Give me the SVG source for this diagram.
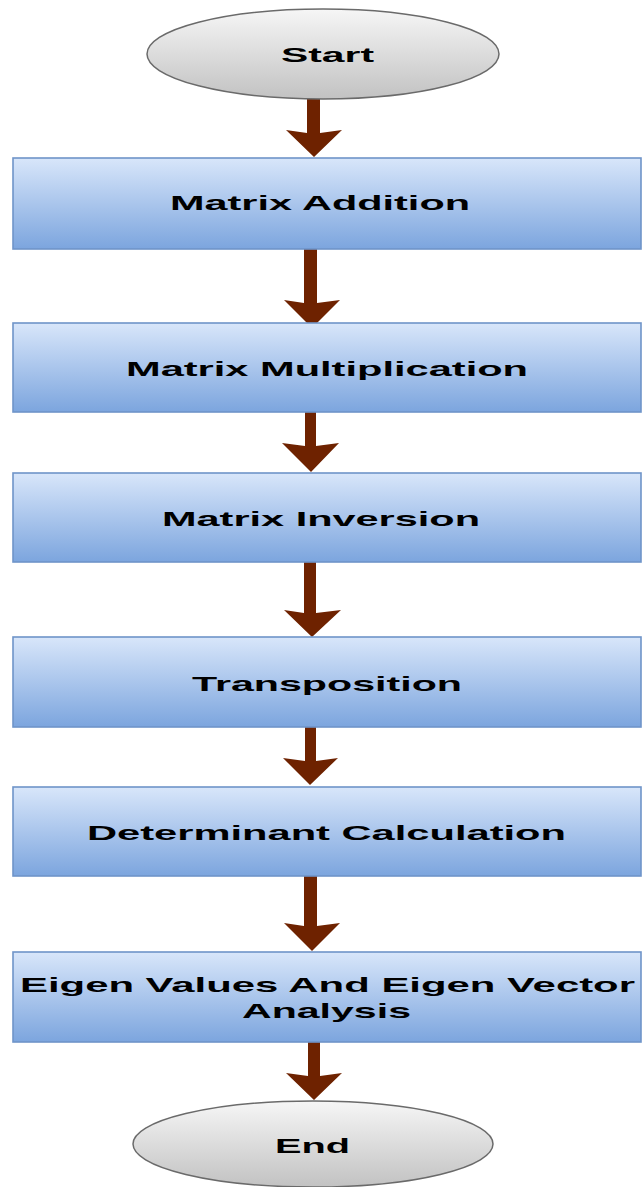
<svg xmlns="http://www.w3.org/2000/svg" width="642" height="1187" viewBox="0 0 642 1187">
<defs>
<linearGradient id="boxg" x1="0" y1="0" x2="0" y2="1">
<stop offset="0" stop-color="#d8e6fa"/>
<stop offset="1" stop-color="#7ca5de"/>
</linearGradient>
<linearGradient id="ellg" x1="0" y1="0" x2="0" y2="1">
<stop offset="0" stop-color="#f6f6f6"/>
<stop offset="1" stop-color="#c2c2c2"/>
</linearGradient>
</defs>
<style>
.box{fill:url(#boxg);stroke:#6f94c9;stroke-width:1.6}
.ell{fill:url(#ellg);stroke:#6a6a6a;stroke-width:1.5}
.lbl{font-family:"Liberation Sans",Arial,sans-serif;font-weight:bold;font-size:21px;fill:#000}
.arr{fill:#6e2200}
</style>
<g id="connectors">
<polygon class="arr" points="307,99 320,99 320,133 342,130 314,157 286,130 307,133"/>
<polygon class="arr" points="304,249 317,249 317,303 340,300 312,328 284,300 304,303"/>
<polygon class="arr" points="305,412 316,412 316,446 339,443 311,472 282,443 305,446"/>
<polygon class="arr" points="304,562 316,562 316,613 341,610 312,637 284,610 304,613"/>
<polygon class="arr" points="305,727 316,727 316,761 338,758 310,785 283,758 305,761"/>
<polygon class="arr" points="304,876 317,876 317,926 340,923 312,951 284,923 304,926"/>
<polygon class="arr" points="308,1042 320,1042 320,1076 342,1073 314,1100 286,1073 308,1076"/>
</g>
<g id="start">
<ellipse class="ell" cx="323" cy="54" rx="176" ry="45"/>
<text class="lbl" x="281" y="62" textLength="93" lengthAdjust="spacingAndGlyphs">Start</text>
</g>
<g id="addition">
<rect class="box" x="13" y="158" width="628" height="91"/>
<text class="lbl" x="170" y="210" textLength="300" lengthAdjust="spacingAndGlyphs">Matrix Addition</text>
</g>
<g id="multiplication">
<rect class="box" x="13" y="323" width="628" height="89"/>
<text class="lbl" x="126" y="376" textLength="402" lengthAdjust="spacingAndGlyphs">Matrix Multiplication</text>
</g>
<g id="inversion">
<rect class="box" x="13" y="473" width="628" height="89"/>
<text class="lbl" x="162" y="526" textLength="318" lengthAdjust="spacingAndGlyphs">Matrix Inversion</text>
</g>
<g id="transposition">
<rect class="box" x="13" y="637" width="628" height="90"/>
<text class="lbl" x="192" y="691" textLength="270" lengthAdjust="spacingAndGlyphs">Transposition</text>
</g>
<g id="determinant">
<rect class="box" x="13" y="787" width="628" height="89"/>
<text class="lbl" x="87" y="840" textLength="479" lengthAdjust="spacingAndGlyphs">Determinant Calculation</text>
</g>
<g id="eigen">
<rect class="box" x="13" y="952" width="628" height="90"/>
<text class="lbl" x="20" y="992" textLength="615" lengthAdjust="spacingAndGlyphs">Eigen Values And Eigen Vector</text>
<text class="lbl" x="242" y="1018" textLength="169" lengthAdjust="spacingAndGlyphs">Analysis</text>
</g>
<g id="end">
<ellipse class="ell" cx="313" cy="1144" rx="180" ry="43"/>
<text class="lbl" x="275" y="1153" textLength="75" lengthAdjust="spacingAndGlyphs">End</text>
</g>
</svg>
